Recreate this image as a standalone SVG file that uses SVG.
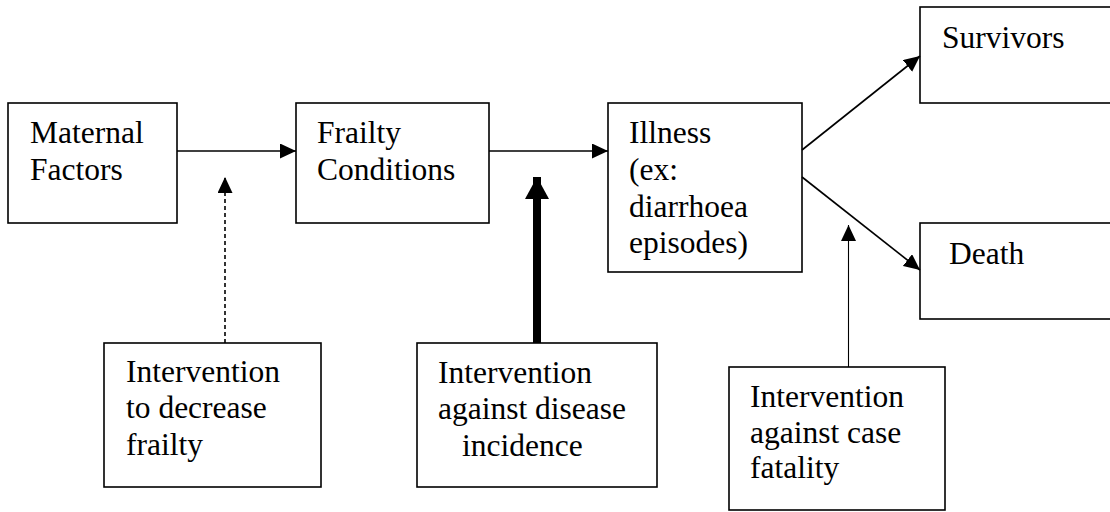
<svg xmlns="http://www.w3.org/2000/svg" width="1110" height="512" viewBox="0 0 1110 512">
<style>
.box{fill:#fff;stroke:#000;stroke-width:1.6}
.t{font-family:'Liberation Serif','Tinos','DejaVu Serif',serif;font-size:31.5px;fill:#000}
.c{fill:none;stroke:#000;stroke-width:1.6}
</style>
<defs>
<marker id="ah" markerUnits="userSpaceOnUse" markerWidth="16" markerHeight="15" refX="16" refY="7.5" orient="auto">
<path d="M0,0 L16,7.5 L0,15 z" fill="#000"/>
</marker>
<marker id="ahb" markerUnits="userSpaceOnUse" markerWidth="22" markerHeight="24" refX="22" refY="12" orient="auto">
<path d="M0,0 L22,12 L0,24 z" fill="#000"/>
</marker>
</defs>
<rect width="1110" height="512" fill="#fff"/>
<g id="maternal">
<rect class="box" x="8" y="103" width="169" height="120"/>
<text class="t" x="30" y="143">Maternal</text>
<text class="t" x="30" y="180">Factors</text>
</g>
<g id="frailty">
<rect class="box" x="296" y="103" width="193" height="120"/>
<text class="t" x="317" y="143">Frailty</text>
<text class="t" x="317" y="180">Conditions</text>
</g>
<g id="illness">
<rect class="box" x="608" y="103" width="194" height="169"/>
<text class="t" x="629" y="143">Illness</text>
<text class="t" x="629" y="180">(ex:</text>
<text class="t" x="629" y="217">diarrhoea</text>
<text class="t" x="629" y="253">episodes)</text>
</g>
<g id="survivors">
<rect class="box" x="920" y="7" width="200" height="96"/>
<text class="t" x="942" y="48">Survivors</text>
</g>
<g id="death">
<rect class="box" x="920" y="223" width="200" height="96"/>
<text class="t" x="949" y="264">Death</text>
</g>
<g id="int-frailty">
<rect class="box" x="104" y="343" width="217" height="144"/>
<text class="t" x="126" y="382">Intervention</text>
<text class="t" x="126" y="418">to decrease</text>
<text class="t" x="126" y="455">frailty</text>
</g>
<g id="int-incidence">
<rect class="box" x="417" y="343" width="240" height="144"/>
<text class="t" x="438" y="383">Intervention</text>
<text class="t" x="438" y="419">against disease</text>
<text class="t" x="462" y="456">incidence</text>
</g>
<g id="int-fatality">
<rect class="box" x="729" y="367" width="216" height="143"/>
<text class="t" x="750" y="407">Intervention</text>
<text class="t" x="750" y="443">against case</text>
<text class="t" x="750" y="478">fatality</text>
</g>
<g id="connectors">
<line class="c" x1="177" y1="151" x2="296" y2="151" marker-end="url(#ah)"/>
<line class="c" x1="489" y1="151" x2="608" y2="151" marker-end="url(#ah)"/>
<line class="c" x1="802" y1="150" x2="920" y2="56" marker-end="url(#ah)"/>
<line class="c" x1="802" y1="177" x2="920" y2="270" marker-end="url(#ah)"/>
<line class="c" x1="225" y1="343" x2="225" y2="177" stroke-dasharray="4,3" marker-end="url(#ah)"/>
<line x1="537" y1="343" x2="537" y2="177" stroke="#000" stroke-width="8" marker-end="url(#ahb)"/>
<line x1="848.5" y1="367" x2="848.5" y2="225" stroke="#000" stroke-width="1.1" marker-end="url(#ah)"/>
</g>
</svg>
